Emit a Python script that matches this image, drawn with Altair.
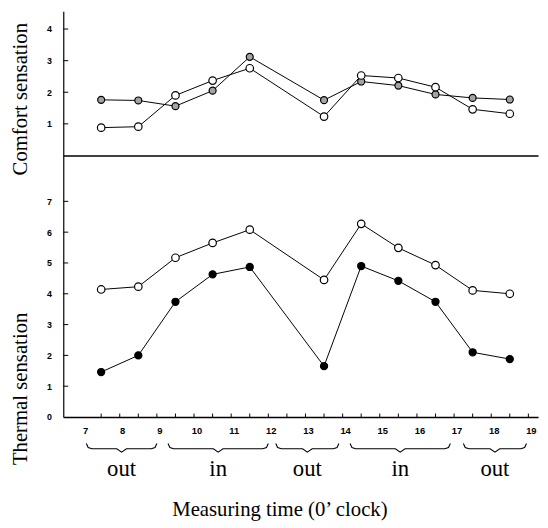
import altair as alt
import pandas as pd

# ---- data ----
hours = [7.5, 8.5, 9.5, 10.5, 11.5, 13.5, 14.5, 15.5, 16.5, 17.5, 18.5]
comfort_a = [1.76, 1.74, 1.56, 2.05, 3.12, 1.75, 2.34, 2.21, 1.93, 1.82, 1.77]
comfort_b = [0.88, 0.91, 1.90, 2.37, 2.76, 1.23, 2.53, 2.45, 2.16, 1.46, 1.32]
thermal_open = [4.14, 4.23, 5.17, 5.65, 6.08, 4.45, 6.27, 5.49, 4.93, 4.11, 4.00]
thermal_filled = [1.46, 2.00, 3.74, 4.63, 4.87, 1.65, 4.90, 4.42, 3.74, 2.10, 1.88]

comfort_ticks = [1, 2, 3, 4]
thermal_ticks = [0, 1, 2, 3, 4, 5, 6, 7]
hour_ticks = [7, 8, 9, 10, 11, 12, 13, 14, 15, 16, 17, 18, 19]
minor_ticks = [7.5, 8, 8.5, 9, 9.5, 10, 10.5, 11, 11.5, 12, 12.5, 13, 13.5, 14,
               14.5, 15, 15.5, 16, 16.5, 17, 17.5, 18, 18.5, 19]

period_labels = ["out", "in", "out", "in", "out"]
brace_start = [7.1, 9.3, 12.2, 14.2, 17.25]
brace_end = [9.0, 12.0, 13.9, 16.9, 18.95]

# ---- scales ----
W = 481
xs = alt.Scale(domain=[6.48, 19.26], nice=False, zero=False)
ys_top = alt.Scale(domain=[0, 4.56], nice=False, zero=False)
ys_bot = alt.Scale(domain=[0, 8.49], nice=False, zero=False)

SERIF = "Liberation Serif"
SANS = "Liberation Sans"

def y_axis(values, title, ty):
    return alt.Axis(values=values, ticks=False, tickSize=0, labelPadding=12,
                    labelFont=SANS, labelFontWeight="bold", labelFontSize=9,
                    labelColor="black", domainColor="black", domainWidth=1.2,
                    grid=False, title=title, titleFont=SERIF, titleFontSize=21,
                    titleFontWeight="normal", titleColor="black", titleAngle=270,
                    titleX=-37.5, titleY=ty, titleAlign="center",
                    titleBaseline="alphabetic", format="d")

# ---- top panel: comfort ----
x_top = alt.X("hour:Q", scale=xs,
              axis=alt.Axis(title=None, labels=False, ticks=False, grid=False,
                            domainColor="black", domainWidth=1.4))
y_top = alt.Y("value:Q", scale=ys_top,
              axis=y_axis(comfort_ticks, "Comfort sensation", 88.5))

df_a = pd.DataFrame({"hour": hours, "value": comfort_a})
df_b = pd.DataFrame({"hour": hours, "value": comfort_b})

def series(df, fill, size=55):
    line = alt.Chart(df).mark_line(color="black", strokeWidth=1)
    pts = alt.Chart(df).mark_point(shape="circle", filled=True, size=size, fill=fill,
                                   stroke="black", strokeWidth=1.2, opacity=1)
    return line, pts

la, pa = series(df_a, "#a3a3a3", 50)
lb, pb = series(df_b, "white", 58)
top_ticks = alt.Chart(pd.DataFrame({"value": comfort_ticks})).mark_rule(
    color="black", strokeWidth=1).encode(y=y_top, x=alt.value(0), x2=alt.value(5))

top = alt.layer(
    la.encode(x=x_top, y=y_top), lb.encode(x=x_top, y=y_top),
    pa.encode(x=x_top, y=y_top), pb.encode(x=x_top, y=y_top),
    top_ticks,
).properties(width=W, height=146)

# ---- bottom panel: thermal ----
x_bot = alt.X("hour:Q", scale=xs,
              axis=alt.Axis(values=hour_ticks, ticks=False, tickSize=0, labelPadding=9,
                            labelFont=SANS, labelFontWeight="bold", labelFontSize=9.5,
                            labelColor="black", labelOffset=2.5, labelFlush=False,
                            labelOverlap=False, labelBound=False,
                            domainColor="black", domainWidth=1.4, grid=False,
                            format="d",
                            title="Measuring time (0\u2019 clock)", titleFont=SERIF,
                            titleFontSize=21, titleFontWeight="normal", titleColor="black",
                            titleX=219, titleY=100, titleAlign="center",
                            titleBaseline="alphabetic"))
y_bot = alt.Y("value:Q", scale=ys_bot,
              axis=y_axis(thermal_ticks, "Thermal sensation", 236))

df_o = pd.DataFrame({"hour": hours, "value": thermal_open})
df_f = pd.DataFrame({"hour": hours, "value": thermal_filled})
lo, po = series(df_o, "white", 58)
lf, pf = series(df_f, "black", 52)

bot_yticks = alt.Chart(pd.DataFrame({"value": thermal_ticks[1:]})).mark_rule(
    color="black", strokeWidth=1).encode(y=y_bot, x=alt.value(0), x2=alt.value(5))
bot_xticks = alt.Chart(pd.DataFrame({"hour": minor_ticks})).mark_rule(
    color="black", strokeWidth=1).encode(x=x_bot, y=alt.value(265), y2=alt.value(261.5))

# braces built from the period spans
rows = []
for i, (s, e) in enumerate(zip(brace_start, brace_end)):
    m = (s + e) / 2
    shape = [(s, -0.86), (s + 0.05, -0.99), (s + 0.15, -1.03), (m - 0.13, -1.03),
             (m, -1.14), (m + 0.13, -1.03), (e - 0.15, -1.03), (e - 0.05, -0.99), (e, -0.86)]
    for k, (bx, by) in enumerate(shape):
        rows.append({"bid": i, "k": k, "hour": bx, "value": by})
df_brace = pd.DataFrame(rows)
braces = alt.Chart(df_brace).mark_line(color="black", strokeWidth=1.1).encode(
    x=x_bot, y=y_bot, detail="bid:N", order="k:Q")

df_lab = pd.DataFrame({"label": period_labels,
                       "hour": [(s + e) / 2 for s, e in zip(brace_start, brace_end)]})
period_text = alt.Chart(df_lab).mark_text(font=SERIF, fontSize=23, color="black",
                                          baseline="alphabetic", align="center").encode(
    x=x_bot, y=alt.value(325), text="label:N")

bottom = alt.layer(
    lo.encode(x=x_bot, y=y_bot), lf.encode(x=x_bot, y=y_bot),
    po.encode(x=x_bot, y=y_bot), pf.encode(x=x_bot, y=y_bot),
    bot_yticks, bot_xticks, braces, period_text,
).properties(width=W, height=265)

chart = alt.vconcat(top, bottom, spacing=0, bounds="flush").resolve_scale(
    y="independent").configure_view(stroke=None).properties(
    padding={"left": 1, "top": 0, "right": 2, "bottom": 0})

chart.save("out.html", embed_options={"renderer": "svg", "actions": False})
